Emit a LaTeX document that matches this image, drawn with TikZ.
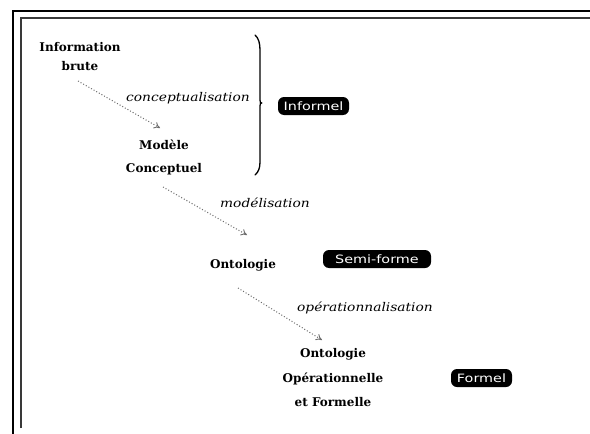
\documentclass[tikz,border=0pt]{standalone}
\usepackage{fontspec}
\usepackage{graphicx}
\usetikzlibrary{arrows.meta,calc}
\newfontfamily\stagefont{DejaVu Serif}
\newfontfamily\badgefont{DejaVu Sans}
\newcommand\widelabel[1]{\scalebox{1.15}[1]{#1}}
\newcommand\widebadge[1]{\scalebox{1.25}[1]{#1}}
\begin{document}
\begin{tikzpicture}[x=1pt,y=-1pt,
  stage/.style={align=center,inner sep=0pt,
    font=\stagefont\bfseries\fontsize{12}{21}\selectfont},
  steplabel/.style={inner sep=0pt,
    font=\stagefont\itshape\fontsize{12}{14}\selectfont},
  badge/.style={fill=black,text=white,rounded corners=6pt,inner sep=0pt,
    minimum height=18pt,font=\badgefont\fontsize{11.5}{13}\selectfont},
  flow/.style={draw=gray!85!black,dotted,line width=1pt,
    -{To[open,length=6pt,width=7pt,line width=0.9pt]}},
]
\useasboundingbox (0,0) rectangle (590,434);
\fill[white] (0,0) rectangle (590,434);

% double frame, open at the right and at the bottom
\draw[black,line width=2pt] (12.7,434) -- (12.7,11) -- (590,11);
\draw[gray!45!black,line width=2pt] (20.5,428) -- (20.5,17.5) -- (590,17.5);

% stages of the process
\node[stage,font=\stagefont\bfseries\fontsize{12}{19}\selectfont] (info) at (80,57) {Information\\brute};
\node[stage,font=\stagefont\bfseries\fontsize{12}{23}\selectfont] (modele) at (164,157) {Modèle\\Conceptuel};
\node[stage] (onto) at (243,265) {Ontologie};
\node[stage,font=\stagefont\bfseries\fontsize{12}{24.5}\selectfont] (ontof) at (333,378) {Ontologie\\Opérationnelle\\et Formelle};

% transformations between stages
\draw[flow] ($(info)+(-2,24)$) -- ($(modele)+(-4,-29)$);
\draw[flow] ($(modele)+(-1,30)$) -- ($(onto)+(4,-30)$);
\draw[flow] ($(onto)+(-5,23)$) -- ($(ontof)+(-11,-38)$);

\node[steplabel] (l1) at (188,98) {\widelabel{conceptualisation}};
\node[steplabel] (l2) at (265,203) {\widelabel{modélisation}};
\node[steplabel] (l3) at (365,308) {\widelabel{opérationnalisation}};

% degree of formality
\node[badge,minimum width=71pt] (b1) at (313.5,106) {\widebadge{Informel}};
\node[badge,minimum width=108pt] (b2) at (377,259) {\widebadge{Semi-forme}};
\node[badge,minimum width=61pt] (b3) at (481.5,378) {\widebadge{Formel}};

% brace grouping the informal part
\draw[black,line width=1.3pt,line cap=round]
  (255,35) .. controls (258.5,38) and (260,43) .. (260,50)
  -- (260,100) .. controls (260,102) and (260.5,103) .. (261.5,103)
  .. controls (260.5,103) and (260,104) .. (260,106)
  -- (260,162) .. controls (260,168) and (258.5,172) .. (255,175);
\end{tikzpicture}
\end{document}
